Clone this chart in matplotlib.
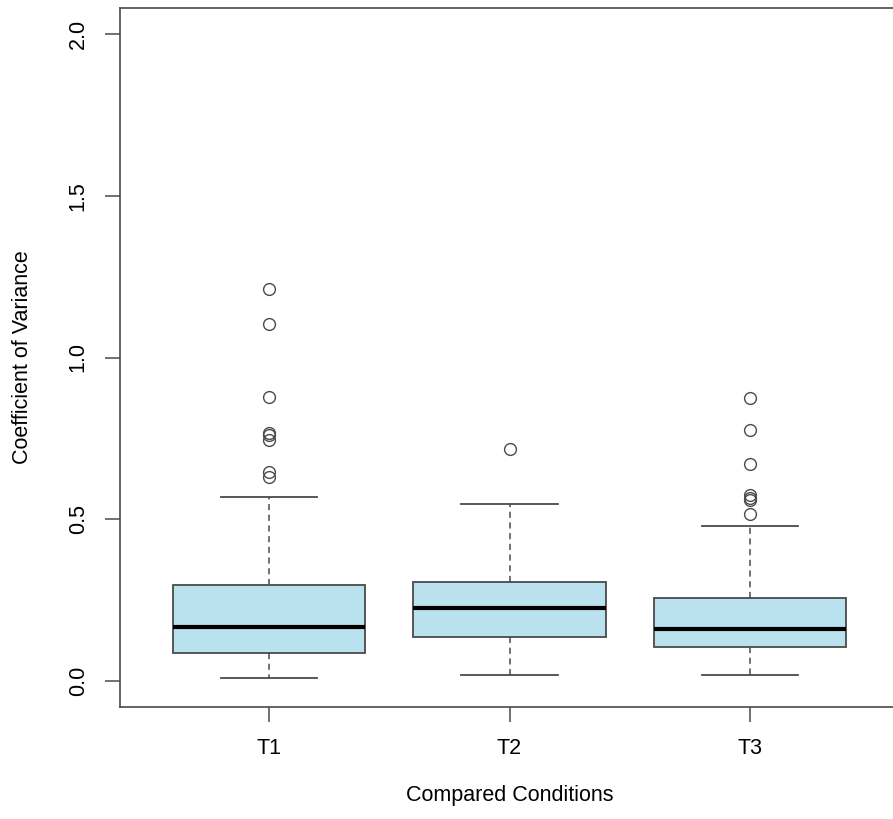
import matplotlib.pyplot as plt

# Box statistics
conditions = ["T1", "T2", "T3"]
whisker_low = [0.010, 0.018, 0.019]
q1 = [0.086, 0.136, 0.104]
medians = [0.168, 0.226, 0.160]
q3 = [0.297, 0.306, 0.256]
whisker_high = [0.570, 0.546, 0.479]
outliers = [
    [1.213, 1.102, 0.879, 0.768, 0.760, 0.745, 0.646, 0.632],
    [0.716],
    [0.874, 0.775, 0.670, 0.574, 0.567, 0.561, 0.515],
]

plt.rcParams["font.family"] = ["Liberation Sans", "DejaVu Sans"]

stats = []
for i, name in enumerate(conditions):
    stats.append({
        "label": name,
        "whislo": whisker_low[i],
        "q1": q1[i],
        "med": medians[i],
        "q3": q3[i],
        "whishi": whisker_high[i],
        "fliers": outliers[i],
    })

W, H = 893, 819
fig = plt.figure(figsize=(W / 100, H / 100), dpi=100)
# right edge of the box lies outside the picture, as in the reference
ax = fig.add_axes([120 / W, (H - 707) / H, 779 / W, 699 / H])

edge = "#4a4a4a"
ax.bxp(
    stats,
    positions=[1, 2, 3],
    widths=0.8,
    patch_artist=True,
    boxprops=dict(facecolor="#bae2ee", edgecolor=edge, linewidth=1.3),
    medianprops=dict(color="black", linewidth=3),
    whiskerprops=dict(color=edge, linewidth=1.1, linestyle=(0, (4, 3))),
    capprops=dict(color=edge, linewidth=1.3),
    capwidths=0.4,
    flierprops=dict(marker="o", markersize=8.5, markerfacecolor="none",
                    markeredgecolor=edge, markeredgewidth=1.0),
)

ax.set_xlim(0.38, 3.62)
ax.set_ylim(-0.08, 2.08)
ax.set_yticks([0.0, 0.5, 1.0, 1.5, 2.0])
ax.set_yticklabels(["0.0", "0.5", "1.0", "1.5", "2.0"], rotation=90, va="center")
ax.set_xticks([1, 2, 3])
ax.set_xticklabels(conditions)

fs = 15.5
for s in ax.spines.values():
    s.set_color(edge)
    s.set_linewidth(1.2)
ax.tick_params(axis="both", length=10.5, width=1.1, color=edge, labelsize=fs)
ax.tick_params(axis="y", pad=12)
ax.tick_params(axis="x", pad=12)

ax.set_ylabel("Coefficient of Variance", fontsize=fs)
ax.set_xlabel("Compared Conditions", fontsize=fs)
ax.yaxis.set_label_coords(-0.112, 0.5)
ax.xaxis.set_label_coords(0.5, -0.112)

fig.savefig("out.png", dpi=100)
